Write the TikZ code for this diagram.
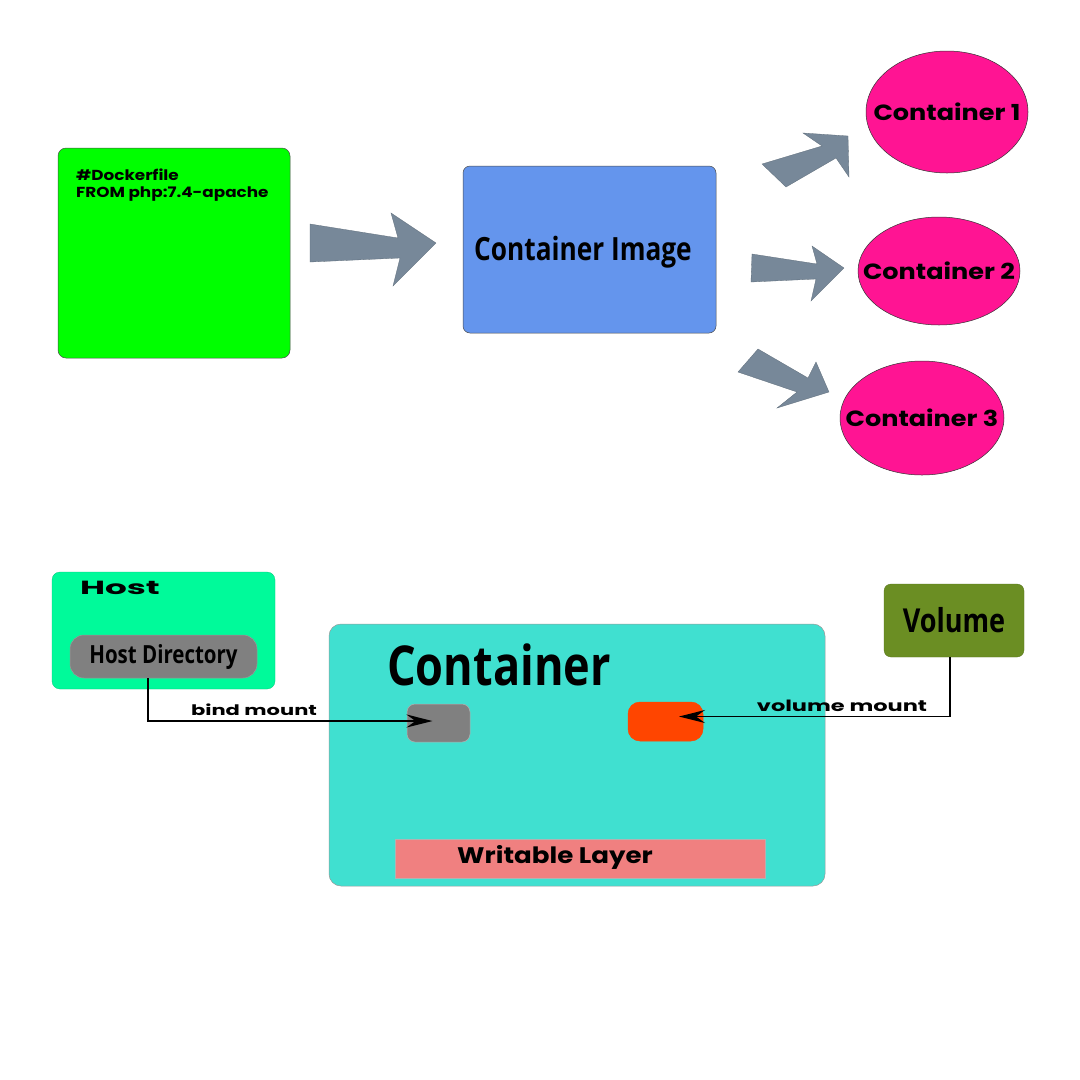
\documentclass[tikz,border=0pt]{standalone}
\usepackage{fontspec}
\setmainfont{Poppins}
\newfontfamily\cond[FakeStretch=0.82]{Open Sans}
\newfontfamily\wide[FakeStretch=1.16]{Poppins}
\newfontfamily\wider[FakeStretch=1.45]{Poppins}
\newfontfamily\widest[FakeStretch=1.8]{Poppins}
\usetikzlibrary{arrows.meta,shapes.geometric}
\definecolor{dgreen}{HTML}{00FF00}
\definecolor{cblue}{HTML}{6495ED}
\definecolor{dpink}{HTML}{FF1493}
\definecolor{sgray}{HTML}{778899}
\definecolor{mspring}{HTML}{00FA9A}
\definecolor{turq}{HTML}{40E0D0}
\definecolor{ored}{HTML}{FF4500}
\definecolor{lcoral}{HTML}{F08080}
\definecolor{olive}{HTML}{6B8E23}
\tikzset{
  box/.style={draw=black!70,line width=0.5pt,inner sep=0pt},
  cont/.style={ellipse,draw=black!80,line width=0.5pt,fill=dpink,inner sep=0pt,font=\wide\bfseries\fontsize{22}{22}\selectfont},
  blockarrow/.style={fill=sgray,draw=sgray!80!black,line width=0.3pt},
  mount/.style={line width=1.6pt,-{Stealth[length=26pt,width=13pt,inset=9pt]}},
  lbl/.style={inner sep=0pt}
}
\begin{document}
\begin{tikzpicture}[x=1pt,y=-1pt]
\useasboundingbox (0,0) rectangle (1080,1080);
\fill[white] (0,0) rectangle (1080,1080);
% Dockerfile
\node[box,fill=dgreen,rounded corners=8pt,minimum width=232pt,minimum height=210pt] (df) at (174,253) {};
\node[anchor=north west,inner sep=0pt,align=left,font=\wide\bfseries\fontsize{14.5}{17}\selectfont] (dft) at (76,169) {\#Dockerfile\\FROM php:7.4-apache};
% arrow 1
\filldraw[blockarrow] (310,224) -- (398,238) -- (391,213) -- (436,243) -- (393,286) -- (400,258) -- (310,262) -- cycle;
% Container Image
\node[box,fill=cblue,rounded corners=7pt,minimum width=253pt,minimum height=167pt] (ci) at (589.5,249.5) {};
\node[font=\cond\bfseries\fontsize{32}{32}\selectfont,inner sep=0pt] (cit) at (583,252) {Container Image};
% arrows to containers
\filldraw[blockarrow] (762,164) -- (822,146) -- (803,133) -- (848,136) -- (849,177) -- (836,158) -- (786,187) -- cycle;
\filldraw[blockarrow] (752,254) -- (817,264) -- (812,246) -- (844,268) -- (811,301) -- (816,279) -- (751,282) -- cycle;
\filldraw[blockarrow] (758,349) -- (808,378) -- (816,362) -- (829,392) -- (777,408) -- (797,392) -- (738,372) -- cycle;
% containers
\node[cont,minimum width=162pt,minimum height=122pt] (c1) at (947,112) {\makebox[0pt]{Container 1}};
\node[cont,minimum width=162pt,minimum height=108pt] (c2) at (939,271) {\makebox[0pt]{Container 2}};
\node[cont,minimum width=164pt,minimum height=114pt] (c3) at (922,418) {\makebox[0pt]{Container 3}};
% Host
\node[box,draw=mspring!80!black,line width=0.3pt,fill=mspring,rounded corners=8pt,minimum width=223pt,minimum height=117pt] (host) at (163.5,630.5) {};
\node[font=\widest\bfseries\fontsize{19}{19}\selectfont,inner sep=0pt] (hostt) at (120,588) {Host};
\node[box,draw=black!40,fill=gray,rounded corners=14pt,minimum width=187pt,minimum height=43pt,font=\cond\bfseries\fontsize{25}{25}\selectfont] (hd) at (163.5,656.5) {Host Directory};
% Container
\node[box,draw=black!40,fill=turq,rounded corners=12pt,minimum width=496pt,minimum height=262pt] (ct) at (577,755) {};
\node[font=\cond\bfseries\fontsize{55}{55}\selectfont,inner sep=0pt] (ctt) at (499,665) {Container};
\node[box,draw=black!30,fill=gray,rounded corners=8pt,minimum width=63pt,minimum height=38pt] (gs) at (438.5,723) {};
\node[box,draw=ored,fill=ored,rounded corners=12pt,minimum width=75pt,minimum height=39pt] (os) at (665.5,721.5) {};
\node[box,draw=black!30,fill=lcoral,minimum width=370pt,minimum height=39pt] (wl) at (580,858.5) {};
\node[font=\wide\bfseries\fontsize{22.5}{22.5}\selectfont,inner sep=0pt] (wlt) at (555,857) {Writable Layer};
% Volume
\node[box,draw=olive!80!black,line width=0.3pt,fill=olive,rounded corners=7pt,minimum width=140pt,minimum height=73pt,font=\cond\bfseries\fontsize{33}{33}\selectfont] (vol) at (954,620.5) {Volume};
% mounts
\draw[mount,shorten >=6pt] ([xshift=-15.5pt]hd.south) |- ([yshift=2pt]gs.center);
\node[lbl,font=\wider\bfseries\fontsize{14.5}{14.5}\selectfont] (bml) at (254,710) {bind mount};
\draw[mount,shorten >=13.5pt] ([xshift=-4pt]vol.south) |- ([yshift=5pt]os.center);
\node[lbl,font=\wider\bfseries\fontsize{15.5}{15.5}\selectfont] (vml) at (842,706) {volume mount};
\end{tikzpicture}
\end{document}
